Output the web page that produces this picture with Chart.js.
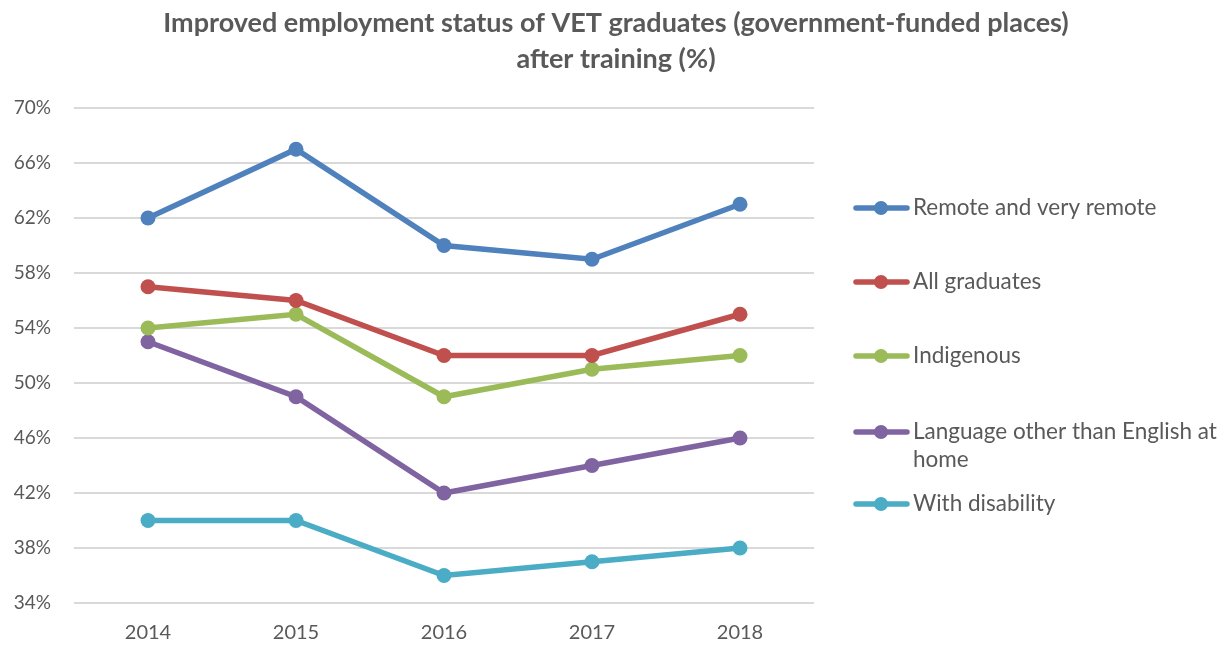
<!DOCTYPE html>
<html lang="en">
  <head>
    <meta charset="UTF-8">
    <title>Improved employment status of VET graduates</title>
    <script src="https://cdn.jsdelivr.net/npm/chart.js@4.4.0/dist/chart.umd.min.js"></script>
    <style>
      html, body { margin: 0; padding: 0; background: #fff; }
      #wrap { width: 1225px; height: 648px; }
    </style>
  </head>
  <body>
    <div id="wrap"><canvas id="chart"></canvas></div>
    <script type="text/javascript">
      const years = ['2014', '2015', '2016', '2017', '2018']
      const remote = [62, 67, 60, 59, 63]
      const allGraduates = [57, 56, 52, 52, 55]
      const indigenous = [54, 55, 49, 51, 52]
      const otherLanguage = [53, 49, 42, 44, 46]
      const disability = [40, 40, 36, 37, 38]
      const seriesLabels = [
        'Remote and very remote',
        'All graduates',
        'Indigenous',
        ['Language other than English at', 'home'],
        'With disability'
      ]
      const titleLines = ['Improved employment status of VET graduates (government-funded places)', 'after training (%)']
      const colours = ['#4f81bd', '#c0504d', '#9bbb59', '#8064a2', '#4bacc6']
      const FONT = 'Lato, "Open Sans", sans-serif'
      const TEXT = '#595959'

      const series = [remote, allGraduates, indigenous, otherLanguage, disability]
      const datasets = series.map((values, i) => ({
        label: seriesLabels[i],
        data: values,
        borderColor: colours[i],
        backgroundColor: colours[i],
        borderWidth: 5.5,
        pointRadius: 7.5,
        pointHoverRadius: 7.5,
        pointBorderWidth: 0,
        tension: 0
      }))

      // title centred on the whole canvas, not just the plot
      const pageTitle = {
        id: 'pageTitle',
        afterDraw (chart) {
          const ctx = chart.ctx
          ctx.save()
          ctx.font = 'bold 27px ' + FONT
          ctx.fillStyle = TEXT
          ctx.textAlign = 'center'
          ctx.textBaseline = 'middle'
          titleLines.forEach((t, i) => ctx.fillText(t, 616, 23 + i * 36))
          ctx.restore()
        }
      }

      // legend drawn by hand: Excel style, line + marker, wrapped label
      const legendRows = [208, 282, 356, 432, 504]
      const sideLegend = {
        id: 'sideLegend',
        afterDraw (chart) {
          const ctx = chart.ctx
          ctx.save()
          ctx.font = '22.5px ' + FONT
          ctx.textBaseline = 'middle'
          chart.data.datasets.forEach((ds, i) => {
            const y = legendRows[i]
            ctx.strokeStyle = ds.borderColor
            ctx.lineWidth = 5.5
            ctx.lineCap = 'round'
            ctx.beginPath()
            ctx.moveTo(856, y)
            ctx.lineTo(907, y)
            ctx.stroke()
            ctx.fillStyle = ds.borderColor
            ctx.beginPath()
            ctx.arc(881, y, 7, 0, Math.PI * 2)
            ctx.fill()
            ctx.fillStyle = TEXT
            const lines = Array.isArray(ds.label) ? ds.label : [ds.label]
            lines.forEach((t, j) => ctx.fillText(t, 913, y + j * 28))
          })
          ctx.restore()
        }
      }

      const ctx = document.getElementById('chart').getContext('2d')
      const chart = new Chart(ctx, {
        type: 'line',
        data: { labels: years, datasets: datasets },
        plugins: [pageTitle, sideLegend],
        options: {
          responsive: true,
          maintainAspectRatio: false,
          animation: false,
          layout: { padding: { left: 0, right: 411, top: 108, bottom: 0 } },
          plugins: {
            legend: { display: false },
            tooltip: { enabled: false },
            title: { display: false }
          },
          scales: {
            x: {
              offset: true,
              grid: { display: false, drawTicks: false },
              border: { display: false },
              ticks: { color: TEXT, font: { family: FONT, size: 20 }, padding: 18 },
              afterFit (scale) { scale.height = 45 }
            },
            y: {
              min: 34,
              max: 70,
              grid: { color: '#d9d9d9', lineWidth: 2, drawTicks: false },
              border: { display: false },
              ticks: {
                stepSize: 4,
                color: TEXT,
                font: { family: FONT, size: 19 },
                padding: 23,
                callback: v => v + '%'
              },
              afterFit (scale) { scale.width = 74 }
            }
          }
        }
      })
    </script>
  </body>
</html>
